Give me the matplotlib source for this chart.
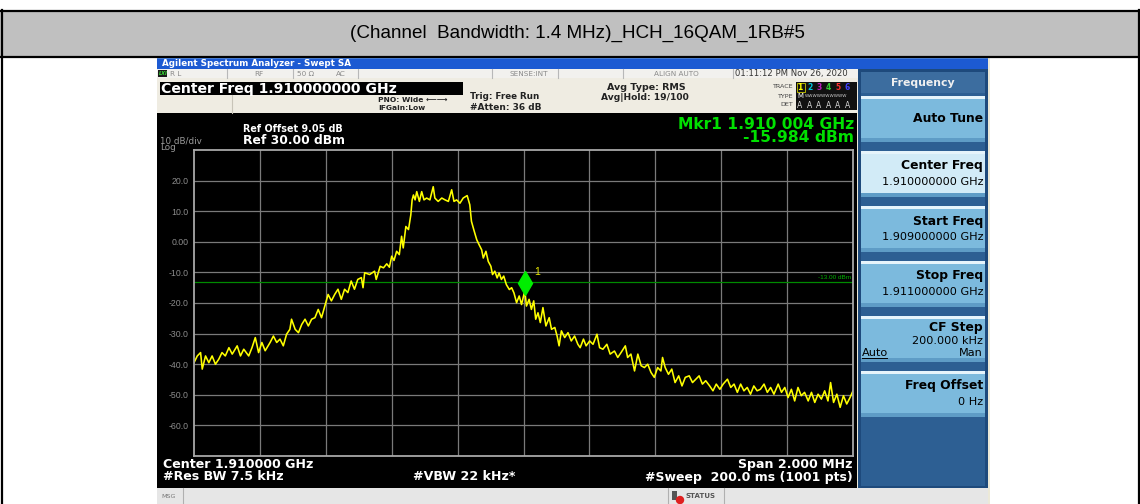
import matplotlib
matplotlib.use('Agg')
import matplotlib.pyplot as plt
from matplotlib.patches import Rectangle
from matplotlib.transforms import offset_copy

plt.rcParams['font.family'] = ['Liberation Sans', 'DejaVu Sans']

# trace: offset from centre (MHz) and level (dBm)
freq_mhz = [-1.000, -0.990, -0.980, -0.975, -0.965, -0.955, -0.945, -0.935, -0.925, -0.915,
            -0.905, -0.894, -0.884, -0.869, -0.859, -0.849, -0.834, -0.824, -0.814, -0.804,
            -0.794, -0.784, -0.769, -0.759, -0.749, -0.739, -0.729, -0.719, -0.709, -0.704,
            -0.693, -0.683, -0.673, -0.663, -0.653, -0.643, -0.633, -0.623, -0.613, -0.603,
            -0.593, -0.583, -0.573, -0.563, -0.553, -0.543, -0.533, -0.523, -0.513, -0.503,
            -0.492, -0.487, -0.482, -0.467, -0.452, -0.447, -0.435, -0.425, -0.415, -0.407,
            -0.400, -0.393, -0.385, -0.377, -0.370, -0.365, -0.357, -0.349, -0.342, -0.338,
            -0.334, -0.329, -0.324, -0.316, -0.309, -0.302, -0.294, -0.284, -0.274, -0.269,
            -0.259, -0.248, -0.238, -0.228, -0.218, -0.211, -0.203, -0.193, -0.183, -0.171,
            -0.163, -0.158, -0.151, -0.142, -0.135, -0.127, -0.122, -0.114, -0.107, -0.099,
            -0.094, -0.087, -0.080, -0.074, -0.067, -0.060, -0.052, -0.043, -0.036, -0.029,
            -0.021, -0.013, -0.006, 0.004, 0.009, 0.017, 0.024, 0.031, 0.037, 0.044,
            0.051, 0.059, 0.068, 0.078, 0.085, 0.095, 0.102, 0.108, 0.115, 0.125,
            0.135, 0.145, 0.155, 0.165, 0.172, 0.182, 0.190, 0.201, 0.211, 0.223,
            0.231, 0.241, 0.253, 0.263, 0.276, 0.286, 0.296, 0.309, 0.316, 0.326,
            0.337, 0.347, 0.357, 0.367, 0.377, 0.387, 0.397, 0.407, 0.417, 0.422,
            0.430, 0.440, 0.450, 0.460, 0.471, 0.481, 0.491, 0.503, 0.513, 0.523,
            0.533, 0.543, 0.553, 0.565, 0.575, 0.585, 0.596, 0.606, 0.619, 0.629,
            0.639, 0.649, 0.659, 0.669, 0.679, 0.689, 0.699, 0.709, 0.719, 0.730,
            0.740, 0.750, 0.760, 0.773, 0.783, 0.793, 0.803, 0.813, 0.823, 0.833,
            0.843, 0.853, 0.864, 0.874, 0.884, 0.894, 0.904, 0.914, 0.924, 0.932,
            0.941, 0.951, 0.961, 0.971, 0.981, 0.991, 1.000]
level_dbm = [-39.5, -37.3, -36.2, -41.6, -37.3, -39.5, -37.3, -40.0, -38.4, -36.2,
             -37.3, -34.6, -36.7, -34.0, -37.3, -35.1, -37.3, -34.6, -31.3, -36.2,
             -32.9, -35.6, -32.9, -30.8, -32.9, -31.8, -34.0, -30.2, -28.6, -25.3,
             -28.6, -29.7, -27.0, -25.3, -27.5, -25.3, -24.8, -22.1, -24.8, -21.0,
             -17.2, -19.3, -17.2, -15.5, -18.8, -15.5, -16.6, -12.8, -15.5, -12.3,
             -11.7, -15.0, -10.1, -10.7, -9.6, -12.3, -8.0, -8.5, -7.2, -8.3,
             -4.7, -6.1, -3.1, -4.2, 1.8, -2.0, 5.0, 4.0, 8.8, 13.7,
             15.3, 13.7, 16.4, 13.2, 16.4, 13.7, 14.3, 13.7, 18.0, 14.3,
             13.2, 14.3, 13.7, 13.2, 17.0, 13.2, 13.7, 12.6, 14.3, 15.1,
             12.1, 6.7, 4.0, 0.7, -0.9, -2.6, -5.3, -3.1, -6.4, -8.0,
             -10.7, -9.6, -11.8, -10.2, -12.3, -11.2, -14.0, -15.6, -15.0, -16.7,
             -19.9, -17.7, -20.5, -15.984, -21.0, -18.8, -22.1, -19.3, -25.3, -23.2,
             -26.4, -21.5, -27.5, -24.8, -28.6, -28.0, -30.8, -34.0, -29.1, -31.3,
             -29.7, -32.4, -30.8, -33.5, -34.6, -31.8, -34.0, -32.4, -33.5, -30.2,
             -34.6, -35.1, -33.5, -36.7, -35.7, -37.8, -36.2, -34.0, -37.8, -36.7,
             -42.2, -36.7, -40.5, -41.1, -40.0, -42.7, -44.3, -41.1, -42.2, -37.8,
             -41.1, -43.3, -41.6, -46.0, -43.8, -47.1, -44.3, -43.8, -46.0, -44.9,
             -43.8, -46.5, -45.4, -47.1, -48.7, -46.5, -48.2, -46.5, -44.9, -47.6,
             -46.5, -49.2, -46.5, -48.7, -47.6, -49.8, -47.1, -48.7, -48.2, -46.5,
             -49.2, -47.6, -49.8, -46.5, -49.2, -47.6, -50.9, -48.2, -52.0, -47.6,
             -50.3, -49.2, -52.0, -49.2, -52.5, -49.8, -51.4, -48.7, -52.0, -46.0,
             -52.5, -49.8, -54.1, -50.3, -53.0, -50.9, -48.7]

ref_level = 30.0
db_per_div = 10.0
limit_dbm = -13.0
mkr_freq = 0.004
mkr_level = -15.984
y_ticks = [20, 10, 0, -10, -20, -30, -40, -50, -60]

softkeys = [('Auto Tune', ''), ('Center Freq', '1.910000000 GHz'),
            ('Start Freq', '1.909000000 GHz'), ('Stop Freq', '1.911000000 GHz'),
            ('CF Step', '200.000 kHz'), ('Freq Offset', '0 Hz')]

W, H = 1140, 504
SF = 'DejaVu Sans'  # wide face, closer to the analyser's screen font
fig = plt.figure(figsize=(W / 100, H / 100), dpi=100)
fig.patch.set_facecolor('white')

# overlay in pixel units for the table and the instrument screen
bg = fig.add_axes([0, 0, 1, 1])
bg.set_xlim(0, W)
bg.set_ylim(H, 0)
bg.axis('off')


def box(x0, y0, x1, y1, color, **kw):
    bg.add_patch(Rectangle((x0, y0), x1 - x0, y1 - y0, facecolor=color,
                           edgecolor=kw.pop('ec', 'none'), **kw))


def txt(x, y, s, size, color='black', ha='left', weight='normal', family=SF, **kw):
    bg.text(x, y, s, fontsize=size, color=color, ha=ha, va='center',
            fontweight=weight, family=family, **kw)


# table frame + header
box(0, 11, W, 56, '#c0c0c0')
bg.plot([0, W], [10.5, 10.5], color='black', lw=1.6)
bg.plot([0, W], [56.5, 56.5], color='black', lw=1.6)
bg.plot([1.5, 1.5], [10, H], color='black', lw=1.6)
bg.plot([1138.5, 1138.5], [10, H], color='black', lw=1.6)
txt(577, 33, '(Channel  Bandwidth: 1.4 MHz)_HCH_16QAM_1RB#5', 13.6, ha='center',
    family='Liberation Sans')

# screen
box(157, 57, 990, H, '#ece9d8')
box(157, 57, 988, 69, '#1c5ad2')
box(157, 57, 988, 59, '#4f8ae6')
txt(162, 63, 'Agilent Spectrum Analyzer - Swept SA', 6.3, 'white', weight='bold')

box(157, 69, 858, 78, '#f2f1ee')
for xs in [227, 293, 358, 492, 558, 623, 733]:
    bg.plot([xs, xs], [69, 78], color='#b8b8b8', lw=0.8)
box(158, 70, 167, 77, '#1a1a1a')
txt(159, 73.5, 'LXI', 3.6, '#33dd33', weight='bold', style='italic')
for xs, s in [(170, 'R L'), (254, 'RF'), (297, '50 Ω'), (336, 'AC'),
              (509, 'SENSE:INT'), (654, 'ALIGN AUTO')]:
    txt(xs, 73.5, s, 5.2, '#8a8a8a')
txt(735, 73.5, '01:11:12 PM Nov 26, 2020', 6.1, '#333333')

box(157, 78, 858, 113, '#efece2')
bg.plot([232, 232], [95, 113], color='#c8c4b8', lw=0.8)
box(160, 82, 463, 95, 'black')
txt(161, 88.5, 'Center Freq 1.910000000 GHz', 10.1, 'white', weight='bold')
txt(378, 99.5, 'PNO: Wide ⟵⟶', 5.4, '#222222', weight='bold')
txt(378, 108, 'IFGain:Low', 5.4, '#222222', weight='bold')
txt(470, 96.5, 'Trig: Free Run', 6.3, '#222222', weight='bold')
txt(470, 107, '#Atten: 36 dB', 6.5, '#222222', weight='bold')
txt(646, 87.5, 'Avg Type: RMS', 6.8, '#222222', weight='bold', ha='center')
txt(601, 97.5, 'Avg|Hold: 19/100', 6.6, '#222222', weight='bold')
txt(793, 87, 'TRACE', 4.6, '#444444', ha='right')
txt(793, 96, 'TYPE', 4.6, '#444444', ha='right')
txt(793, 105, 'DET', 4.6, '#444444', ha='right')
box(796, 82, 857, 110, '#111111')
trace_cols = ['#ffff00', '#00c8e0', '#c020c0', '#30d030', '#ff3030', '#4040ff']
for i, c in enumerate(trace_cols):
    txt(800 + i * 9.5, 87, str(i + 1), 5.5, c, weight='bold', ha='center')
bg.add_patch(Rectangle((796.5, 82.5), 8, 9, fill=False, ec='#cccc00', lw=0.6))
txt(800, 96, 'M', 5, 'white', ha='center')
txt(805, 96, 'WWWWWWWWWW', 3.1, '#cfcfcf')
for i in range(6):
    txt(800 + i * 9.5, 105, 'A', 5.5, '#d8d8d8', ha='center')

# black trace area
box(157, 113, 857, 488, 'black')
txt(243, 128.5, 'Ref Offset 9.05 dB', 6.9, 'white', weight='bold')
txt(243, 140.5, 'Ref 30.00 dBm', 8.9, 'white', weight='bold')
txt(160, 141, '10 dB/div', 6.3, '#9a9a9a')
txt(160, 148, 'Log', 6.3, '#9a9a9a')
txt(854, 124.5, 'Mkr1 1.910 004 GHz', 11.2, '#00e000', ha='right', weight='bold')
txt(854, 138, '-15.984 dBm', 11.2, '#00e000', ha='right', weight='bold')
txt(163, 464.5, 'Center 1.910000 GHz', 9.1, 'white', weight='bold')
txt(163, 477, '#Res BW 7.5 kHz', 9.1, 'white', weight='bold')
txt(413, 477, '#VBW 22 kHz*', 9.1, 'white', weight='bold')
txt(853, 464.5, 'Span 2.000 MHz', 9.1, 'white', weight='bold', ha='right')
txt(853, 477, '#Sweep  200.0 ms (1001 pts)', 9.0, 'white', weight='bold', ha='right')

# bottom status bar
box(157, 488, 988, H, '#e6e6e6')
bg.plot([183, 183], [488, H], color='#b0b0b0', lw=0.8)
txt(161, 496, 'MSG', 4.6, '#777777')
bg.plot([668, 668], [488, H], color='#b0b0b0', lw=0.8)
bg.plot([724, 724], [488, H], color='#b0b0b0', lw=0.8)
box(672, 491, 677, 500, '#555555')
bg.add_patch(plt.Circle((680, 500), 3.5, color='#e02020'))
txt(686, 496, 'STATUS', 5.0, '#555555', weight='bold')

# softkey panel
box(858, 69, 988, 488, '#1e4a7c')
box(861, 72, 985, 486, '#2d5f93')
box(861, 72, 985, 93, '#3c6d9f')
txt(923, 83, 'Frequency', 7.8, '#f0f0f0', ha='center', weight='bold')
for i, (name, val) in enumerate(softkeys):
    top = 96 + i * 55
    face = '#d2ebf7' if name == 'Center Freq' else '#7cbadd'
    box(861, top, 985, top + 46, face)
    box(861, top, 985, top + 3, '#e6f4fb')
    box(861, top + 42, 985, top + 46, '#5e9cc6')
    if name == 'CF Step':
        txt(983, top + 12, name, 8.9, 'black', ha='right', weight='bold')
        txt(983, top + 24.5, val, 8.1, 'black', ha='right')
        txt(983, top + 36.5, 'Man', 8.1, 'black', ha='right')
        txt(862, top + 36.5, 'Auto', 8.1, 'black')
        bg.plot([862, 887], [top + 41.5, top + 41.5], color='black', lw=0.7)
    elif val:
        txt(983, top + 15, name, 8.9, 'black', ha='right', weight='bold')
        txt(983, top + 31, val, 8.1, 'black', ha='right')
    else:
        txt(983, top + 23, name, 8.9, 'black', ha='right', weight='bold')

# graticule with the trace
ax = fig.add_axes([194 / W, 1 - 456 / H, 659 / W, 306 / H])
ax.set_facecolor('black')
ax.set_xlim(-1, 1)
ax.set_ylim(ref_level - 10 * db_per_div, ref_level)
ax.set_xticks([-0.8, -0.6, -0.4, -0.2, 0, 0.2, 0.4, 0.6, 0.8])
ax.set_xticklabels([])
ax.set_yticks(y_ticks)
ax.set_yticklabels(['0.00' if v == 0 else '%.1f' % v for v in y_ticks])
ax.tick_params(length=0, labelsize=6.3, labelcolor='#8c8c8c', pad=4)
ax.grid(True, color='#7a7a7a', lw=0.9)
for s in ax.spines.values():
    s.set_color('#a8a8a8')
    s.set_linewidth(1.3)

ax.axhline(limit_dbm, color='#008a00', lw=0.9)
ax.text(0.995, limit_dbm + 0.6, '%.2f dBm' % limit_dbm, color='#00b000',
        fontsize=4.6, ha='right', va='bottom')
ax.plot(freq_mhz, level_dbm, color='#ffff00', lw=1.15)

mk = offset_copy(ax.transData, fig=fig, x=0, y=7.5, units='dots')
ax.plot([mkr_freq], [mkr_level], marker='d', ms=12, color='#00ee00',
        transform=mk, clip_on=False)
ax.annotate('1', (mkr_freq, mkr_level), xytext=(7, 10), textcoords='offset points',
            color='#e8e800', fontsize=7.5, va='bottom')

fig.savefig('out.png', dpi=100)
